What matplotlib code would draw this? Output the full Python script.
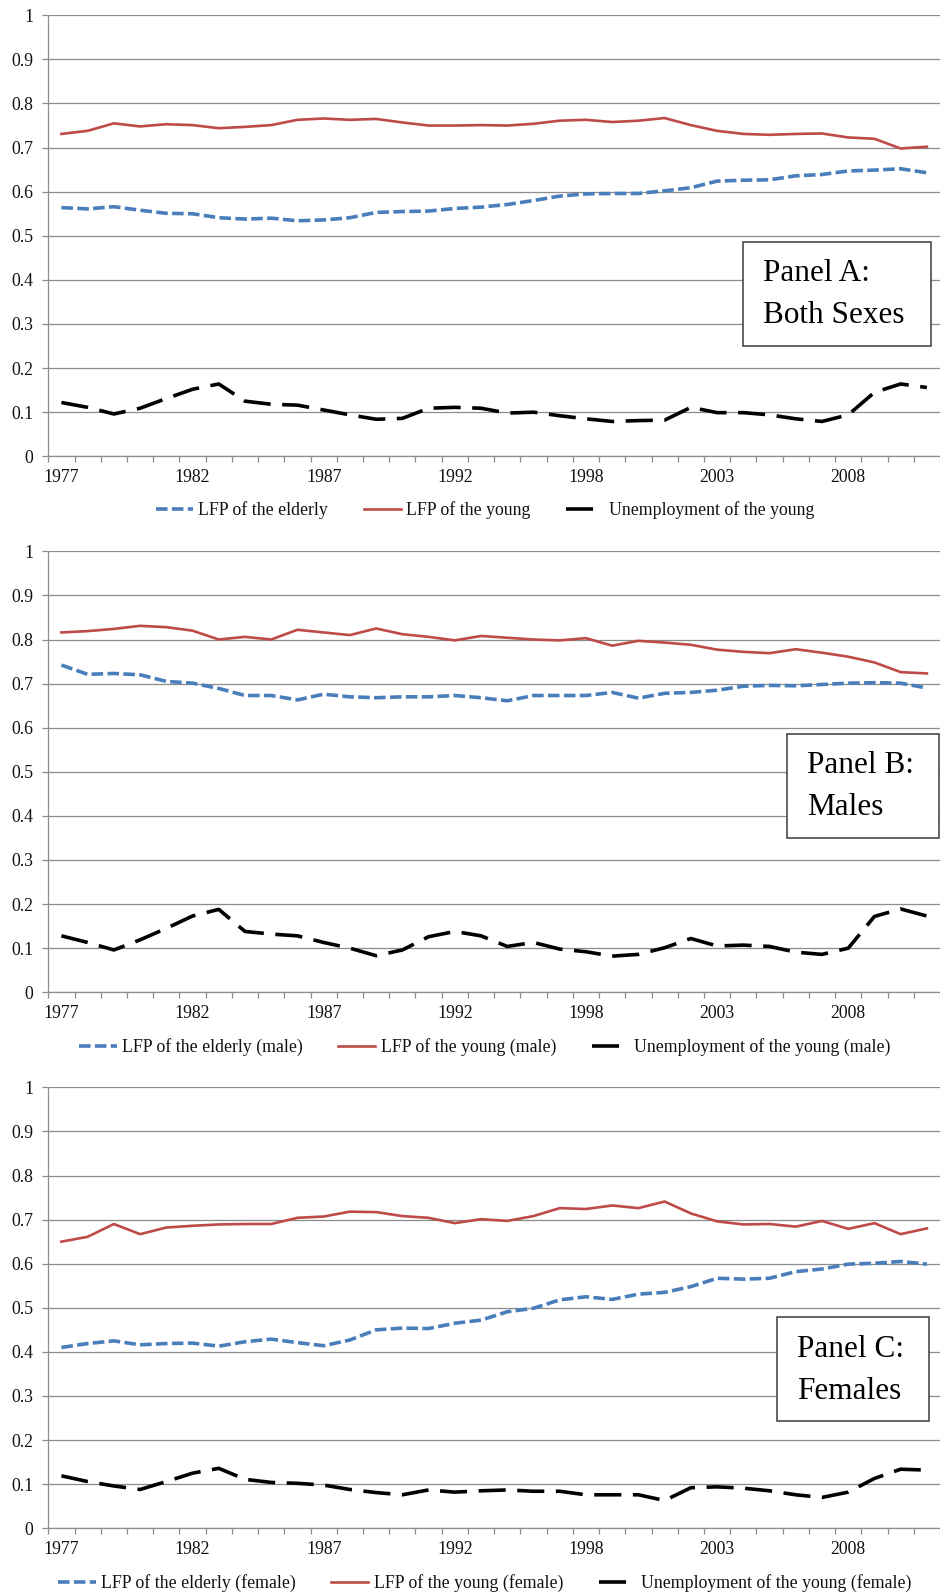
import matplotlib
matplotlib.use("Agg")
import matplotlib.pyplot as plt
from matplotlib.patches import Rectangle

plt.rcParams["font.family"] = ["Liberation Serif", "DejaVu Serif"]

# categories (one year is missing between 1992 and 1998 in the source)
years = list(range(1977, 1994)) + list(range(1995, 2012))
tickEvery = 5

# Panel A: both sexes
elderlyA = [0.564, 0.561, 0.566, 0.558, 0.551, 0.550, 0.541, 0.538, 0.540, 0.534,
            0.536, 0.541, 0.553, 0.555, 0.556, 0.562, 0.565, 0.571, 0.580, 0.590,
            0.595, 0.596, 0.596, 0.602, 0.609, 0.624, 0.626, 0.627, 0.636, 0.639,
            0.647, 0.649, 0.652, 0.643]
youngA = [0.731, 0.738, 0.755, 0.748, 0.753, 0.751, 0.744, 0.747, 0.751, 0.763,
          0.766, 0.763, 0.765, 0.757, 0.750, 0.750, 0.751, 0.750, 0.754, 0.761,
          0.763, 0.758, 0.761, 0.767, 0.751, 0.738, 0.731, 0.729, 0.731, 0.732,
          0.723, 0.720, 0.698, 0.702]
unempA = [0.122, 0.111, 0.096, 0.109, 0.131, 0.152, 0.164, 0.125, 0.118, 0.116,
          0.105, 0.094, 0.084, 0.086, 0.109, 0.111, 0.109, 0.098, 0.100, 0.092,
          0.085, 0.079, 0.081, 0.082, 0.111, 0.099, 0.099, 0.094, 0.085, 0.079,
          0.094, 0.145, 0.164, 0.156]

# Panel B: males
elderlyB = [0.742, 0.721, 0.723, 0.720, 0.705, 0.701, 0.689, 0.673, 0.673, 0.663,
            0.676, 0.670, 0.668, 0.670, 0.670, 0.673, 0.668, 0.661, 0.673, 0.673,
            0.673, 0.680, 0.667, 0.678, 0.680, 0.685, 0.694, 0.696, 0.695, 0.698,
            0.701, 0.702, 0.701, 0.690]
youngB = [0.816, 0.819, 0.824, 0.831, 0.828, 0.820, 0.800, 0.806, 0.800, 0.822,
          0.816, 0.810, 0.825, 0.812, 0.806, 0.798, 0.808, 0.804, 0.800, 0.798,
          0.803, 0.786, 0.797, 0.793, 0.788, 0.777, 0.772, 0.769, 0.778, 0.770,
          0.761, 0.748, 0.726, 0.723]
unempB = [0.128, 0.113, 0.096, 0.119, 0.145, 0.173, 0.188, 0.138, 0.132, 0.128,
          0.113, 0.100, 0.083, 0.096, 0.126, 0.138, 0.128, 0.104, 0.113, 0.098,
          0.092, 0.082, 0.086, 0.101, 0.122, 0.105, 0.107, 0.104, 0.091, 0.086,
          0.100, 0.172, 0.189, 0.173]

# Panel C: females
elderlyC = [0.410, 0.419, 0.425, 0.416, 0.419, 0.420, 0.413, 0.423, 0.429, 0.421,
            0.414, 0.427, 0.450, 0.454, 0.453, 0.465, 0.472, 0.491, 0.499, 0.518,
            0.525, 0.519, 0.531, 0.535, 0.548, 0.567, 0.565, 0.567, 0.582, 0.588,
            0.599, 0.601, 0.605, 0.599]
youngC = [0.650, 0.661, 0.690, 0.667, 0.682, 0.686, 0.689, 0.690, 0.690, 0.704,
          0.707, 0.718, 0.717, 0.708, 0.704, 0.692, 0.701, 0.697, 0.708, 0.726,
          0.724, 0.732, 0.726, 0.741, 0.714, 0.696, 0.689, 0.690, 0.684, 0.697,
          0.679, 0.692, 0.667, 0.680]
unempC = [0.119, 0.106, 0.096, 0.088, 0.106, 0.125, 0.136, 0.111, 0.104, 0.102,
          0.098, 0.088, 0.081, 0.076, 0.087, 0.082, 0.085, 0.087, 0.084, 0.084,
          0.076, 0.076, 0.076, 0.063, 0.092, 0.094, 0.091, 0.085, 0.076, 0.070,
          0.082, 0.113, 0.134, 0.132]

labelsA = ["LFP of the elderly", "LFP of the young", "Unemployment of the young"]
labelsB = ["LFP of the elderly (male)", "LFP of the young (male)",
           "Unemployment of the young (male)"]
labelsC = ["LFP of the elderly (female)", "LFP of the young (female)",
           "Unemployment of the young (female)"]
panelTitles = [("Panel A:", "Both Sexes"), ("Panel B:", "Males"), ("Panel C:", "Females")]

W, H = 940, 1595
blue = "#4A7EBB"
red = "#BE4B48"
gridColor = "#8C8C8C"
textColor = "#111111"
fs = 12.8


def fx(px):
    return px / W


def fy(py):
    return 1 - py / H


def drawPanel(fig, top, bottom, series, labels, legendY, title, box, textX, base1, base2):
    ax = fig.add_axes([fx(48.3), fy(bottom), 1 - fx(48.3), fy(top) - fy(bottom)])
    x = list(range(len(years)))
    elderly, young, unemp = series
    l1, = ax.plot(x, elderly, color=blue, lw=2.6, dashes=(3.2, 1.2),
                  dash_capstyle="butt", label=labels[0], zorder=3)
    l2, = ax.plot(x, young, color=red, lw=1.9, label=labels[1], zorder=3)
    l3, = ax.plot(x, unemp, color="black", lw=2.6, dashes=(7.5, 3.2),
                  dash_capstyle="butt", label=labels[2], zorder=3)

    ax.set_ylim(0, 1)
    ax.set_xlim(-0.5, 33.3)
    ax.set_yticks([i / 10 for i in range(11)])
    ax.set_yticklabels(["0"] + ["0.%d" % i for i in range(1, 10)] + ["1"])
    ax.set_xticks(x[::tickEvery])
    ax.set_xticklabels([str(years[i]) for i in x[::tickEvery]])
    ax.set_xticks([i + 0.5 for i in range(-1, len(years))], minor=True)
    ax.tick_params(axis="x", which="major", length=0, pad=9, labelsize=fs,
                   colors=textColor)
    ax.tick_params(axis="x", which="minor", length=4.3, width=0.9, color=gridColor,
                   direction="out")
    ax.tick_params(axis="y", length=4, width=0.9, color=gridColor, pad=7,
                   labelsize=fs, labelcolor=textColor)
    ax.grid(axis="y", color=gridColor, lw=0.9)
    ax.set_axisbelow(True)
    for s in ["top", "right"]:
        ax.spines[s].set_visible(False)
    for s in ["left", "bottom"]:
        ax.spines[s].set_color(gridColor)
        ax.spines[s].set_linewidth(0.9)

    fig.legend(handles=[l1, l2, l3], loc="center", ncol=3, frameon=False,
               bbox_to_anchor=(fx(485), fy(legendY)), bbox_transform=fig.transFigure,
               fontsize=fs, handlelength=2.1, handletextpad=0.3, columnspacing=2.0,
               labelcolor=textColor)

    x0, y0, x1, y1 = box
    fig.patches.append(Rectangle((fx(x0), fy(y1)), fx(x1) - fx(x0), fy(y0) - fy(y1),
                                 transform=fig.transFigure, fill=True, facecolor="white",
                                 edgecolor="#3A3A3A", lw=1.1, zorder=5))
    fig.text(fx(textX), fy(base1), title[0], fontsize=22.5, va="baseline", zorder=6)
    fig.text(fx(textX), fy(base2), title[1], fontsize=22.5, va="baseline", zorder=6)
    return ax


fig = plt.figure(figsize=(W / 100, H / 100), dpi=100)
drawPanel(fig, 15.3, 456.3, (elderlyA, youngA, unempA), labelsA, 510,
          panelTitles[0], (742.7, 242, 931, 346.3), 762.7, 281, 322.7)
drawPanel(fig, 551.3, 992.3, (elderlyB, youngB, unempB), labelsB, 1047,
          panelTitles[1], (786.7, 734, 939, 838.3), 807.3, 772.7, 815)
drawPanel(fig, 1087.3, 1528.3, (elderlyC, youngC, unempC), labelsC, 1583,
          panelTitles[2], (776.7, 1317.3, 929, 1421), 796.7, 1356.7, 1399)

fig.savefig("out.png", dpi=100)
